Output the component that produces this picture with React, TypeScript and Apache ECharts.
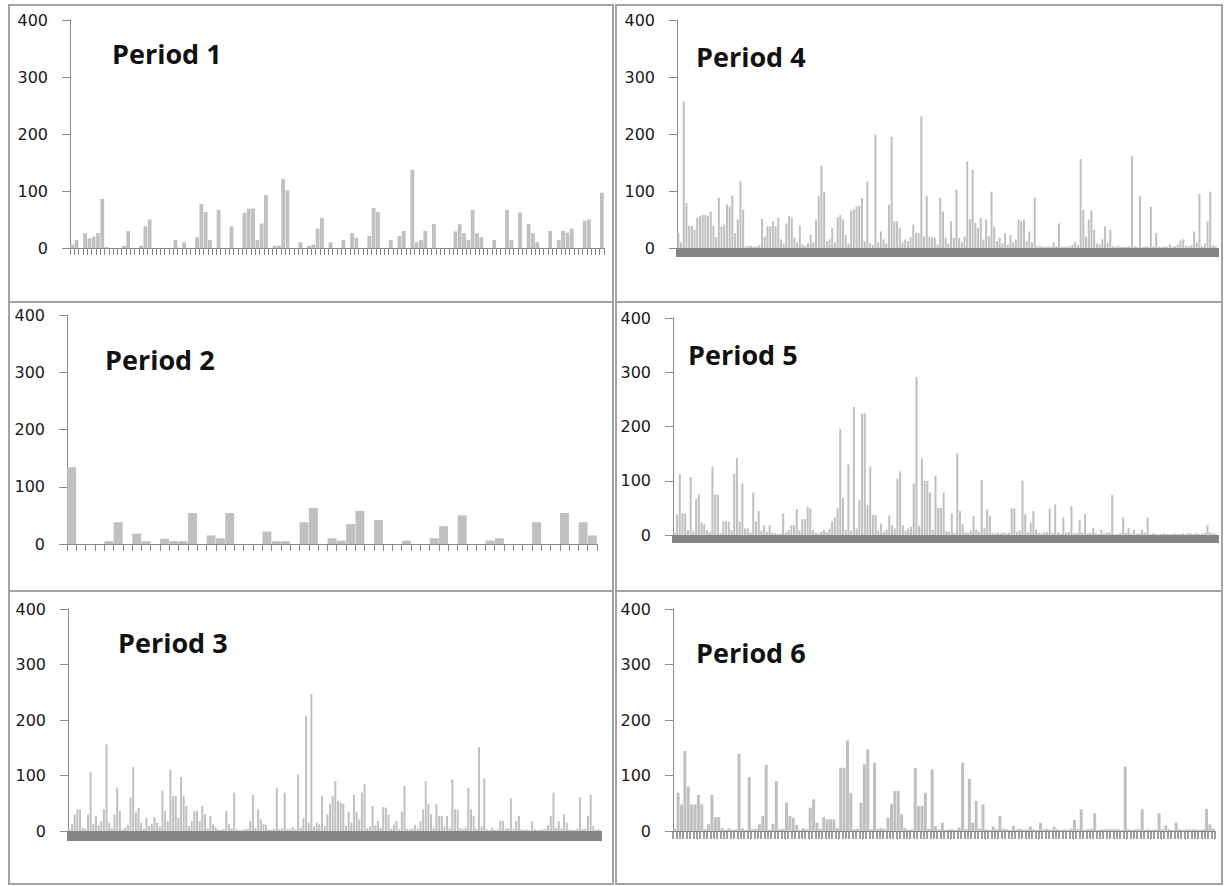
import React, { useEffect, useRef } from "react";
import * as echarts from "echarts";

// ---- data ----
const TITLES = ["Period 1", "Period 2", "Period 3", "Period 4", "Period 5", "Period 6"];
const Y_MIN = 0;
const Y_MAX = 400;
const Y_STEP = 100;

const PERIOD1 = [
  6, 14, 0, 26, 17, 20, 26, 86, 2, 0,
  0, 0, 4, 30, 0, 0, 4, 38, 50, 0,
  0, 0, 0, 0, 14, 0, 10, 0, 0, 19,
  77, 63, 14, 0, 67, 0, 0, 38, 0, 0,
  62, 69, 69, 14, 43, 93, 0, 4, 4, 121,
  101, 0, 0, 10, 0, 4, 6, 34, 53, 0,
  10, 0, 0, 14, 0, 26, 18, 0, 0, 21,
  70, 63, 0, 0, 14, 0, 21, 30, 0, 137,
  10, 14, 30, 0, 42, 0, 0, 0, 0, 29,
  42, 26, 14, 67, 26, 19, 0, 0, 14, 0,
  0, 67, 14, 0, 62, 0, 42, 26, 10, 0,
  0, 30, 0, 14, 30, 27, 34, 0, 0, 48,
  50, 0, 0, 97,
];

const PERIOD2 = [
  134, 0, 0, 0, 5, 38, 0, 18, 5, 0,
  9, 5, 5, 54, 0, 15, 10, 54, 0, 0,
  0, 22, 5, 5, 0, 38, 63, 0, 10, 6,
  35, 58, 0, 42, 0, 0, 6, 0, 0, 10,
  31, 0, 50, 0, 0, 6, 10, 0, 0, 0,
  38, 0, 0, 54, 0, 38, 15,
];

const PERIOD3 = [
  3, 12, 30, 39, 39, 6, 4, 30, 106, 12,
  27, 11, 18, 39, 156, 15, 5, 30, 78, 36,
  3, 6, 11, 60, 115, 33, 42, 15, 4, 24,
  9, 13, 25, 15, 8, 73, 36, 18, 111, 63,
  63, 24, 97, 63, 45, 9, 18, 36, 36, 18,
  45, 30, 5, 27, 12, 7, 3, 2, 4, 36,
  13, 5, 69, 3, 2, 2, 3, 4, 18, 65,
  6, 39, 21, 12, 11, 3, 2, 4, 78, 3,
  5, 69, 3, 4, 7, 3, 102, 6, 23, 207,
  15, 247, 8, 15, 12, 63, 9, 30, 48, 63,
  90, 54, 51, 49, 10, 35, 15, 65, 35, 21,
  69, 84, 5, 8, 45, 10, 18, 6, 43, 42,
  30, 4, 12, 18, 3, 35, 81, 4, 3, 5,
  11, 4, 18, 39, 90, 48, 30, 6, 48, 27,
  27, 8, 27, 6, 93, 39, 39, 5, 3, 6,
  78, 39, 27, 4, 151, 8, 95, 3, 2, 6,
  2, 3, 18, 18, 4, 5, 59, 4, 18, 27,
  3, 2, 3, 2, 18, 3, 2, 2, 3, 4,
  11, 27, 69, 6, 18, 5, 30, 15, 3, 2,
  2, 4, 61, 3, 4, 27, 65, 9, 2, 3,
];

const PERIOD4 = [
  26, 10, 257, 79, 39, 39, 32, 53, 56, 58,
  58, 56, 64, 39, 19, 88, 38, 41, 76, 73,
  92, 26, 50, 117, 67, 3, 4, 4, 2, 3,
  5, 51, 20, 38, 38, 47, 38, 53, 15, 8,
  43, 56, 53, 18, 10, 39, 6, 4, 8, 23,
  10, 50, 91, 144, 99, 12, 15, 35, 10, 54,
  58, 50, 23, 8, 66, 68, 73, 74, 88, 12,
  117, 8, 5, 199, 10, 29, 15, 8, 76, 195,
  47, 47, 35, 10, 15, 12, 19, 41, 26, 26,
  231, 20, 91, 20, 19, 18, 6, 88, 64, 18,
  8, 47, 18, 102, 18, 10, 20, 152, 50, 137,
  44, 35, 53, 15, 50, 20, 99, 38, 12, 18,
  8, 26, 6, 23, 10, 15, 50, 47, 50, 12,
  29, 10, 88, 3, 4, 2, 2, 3, 2, 10,
  3, 43, 2, 2, 2, 3, 6, 10, 5, 156,
  67, 20, 50, 66, 32, 8, 6, 15, 38, 10,
  32, 3, 2, 4, 2, 2, 2, 3, 161, 3,
  2, 91, 2, 3, 2, 72, 3, 26, 2, 2,
  3, 2, 6, 2, 3, 6, 13, 15, 4, 3,
  5, 29, 10, 95, 3, 8, 47, 99, 4, 3,
];

const PERIOD5 = [
  5, 38, 112, 40, 40, 9, 107, 7, 66, 75,
  23, 20, 9, 6, 126, 75, 74, 3, 25, 25,
  25, 9, 113, 142, 25, 95, 12, 12, 5, 78,
  25, 44, 8, 18, 6, 18, 4, 3, 2, 3,
  40, 5, 9, 18, 18, 48, 8, 29, 29, 52,
  49, 9, 4, 3, 6, 9, 5, 12, 25, 32,
  49, 196, 69, 10, 130, 8, 236, 12, 64, 224,
  224, 55, 126, 37, 37, 8, 21, 6, 10, 36,
  18, 12, 104, 117, 18, 8, 12, 15, 95, 291,
  17, 141, 100, 100, 78, 10, 109, 50, 50, 78,
  7, 6, 39, 4, 150, 44, 20, 5, 4, 8,
  35, 10, 6, 102, 13, 47, 35, 4, 3, 4,
  3, 5, 3, 4, 49, 49, 6, 8, 100, 38,
  5, 23, 44, 10, 4, 3, 5, 6, 49, 4,
  56, 5, 3, 32, 4, 6, 53, 3, 4, 27,
  5, 39, 3, 4, 13, 3, 2, 10, 3, 4,
  5, 74, 1, 2, 3, 32, 4, 13, 3, 10,
  2, 3, 10, 4, 32, 2, 3, 2, 1, 2,
  3, 2, 2, 2, 3, 2, 2, 3, 2, 4,
  3, 2, 4, 2, 3, 4, 18, 5, 3, 2,
];

const PERIOD6 = [
  4, 69, 48, 144, 80, 48, 48, 65, 48, 3,
  12, 65, 25, 25, 5, 2, 5, 2, 3, 139,
  5, 2, 97, 3, 4, 12, 27, 119, 2, 13,
  90, 3, 4, 51, 27, 24, 11, 2, 5, 3,
  42, 57, 15, 4, 25, 21, 21, 21, 5, 114,
  114, 163, 69, 3, 4, 51, 120, 147, 3, 123,
  4, 5, 3, 24, 49, 72, 72, 30, 5, 2,
  3, 114, 45, 45, 69, 4, 111, 9, 3, 15,
  2, 3, 3, 2, 6, 123, 3, 94, 15, 54,
  4, 48, 3, 2, 8, 3, 27, 4, 3, 2,
  9, 3, 4, 2, 3, 8, 3, 2, 15, 3,
  4, 2, 8, 3, 2, 3, 2, 4, 20, 3,
  39, 2, 3, 4, 32, 2, 3, 3, 3, 3,
  3, 3, 2, 116, 3, 2, 3, 3, 39, 2,
  3, 2, 3, 32, 3, 10, 3, 2, 15, 3,
  2, 3, 3, 3, 3, 2, 3, 40, 12, 4,
];

// ---- layout ----
const PANELS = [
  { data: PERIOD1, title: TITLES[0], grid: { left: 70, top: 20, width: 534, height: 228 }, tx: 112, ty: 53, tickLen: 7, tickW: 1, tickC: "#8a8a8a", gap: "12%" },
  { data: PERIOD2, title: TITLES[1], grid: { left: 67, top: 315, width: 530, height: 229 }, tx: 105, ty: 359, tickLen: 7, tickW: 1, tickC: "#8a8a8a", gap: "4%" },
  { data: PERIOD3, title: TITLES[2], grid: { left: 68, top: 609, width: 532, height: 222 }, tx: 118, ty: 642, tickLen: 10, tickW: 3, tickC: "#858585", gap: "25%" },
  { data: PERIOD4, title: TITLES[3], grid: { left: 677, top: 20, width: 540, height: 228 }, tx: 696, ty: 56, tickLen: 9, tickW: 3, tickC: "#858585", gap: "25%" },
  { data: PERIOD5, title: TITLES[4], grid: { left: 673, top: 318, width: 544, height: 217 }, tx: 688, ty: 354, tickLen: 8, tickW: 3, tickC: "#858585", gap: "25%" },
  { data: PERIOD6, title: TITLES[5], grid: { left: 673, top: 609, width: 542, height: 222 }, tx: 696, ty: 652, tickLen: 8, tickW: 1.5, tickC: "#7f7f7f", gap: "12%" },
];

const BORDERS = [
  { x: 9, y: 5, w: 604, h: 297 },
  { x: 9, y: 302, w: 604, h: 289 },
  { x: 9, y: 591, w: 604, h: 293 },
  { x: 616, y: 5, w: 606, h: 297 },
  { x: 616, y: 302, w: 606, h: 289 },
  { x: 616, y: 591, w: 606, h: 293 },
];

export default function App() {
  const ref = useRef<HTMLDivElement>(null);

  useEffect(() => {
    document.body.style.margin = "0";
    if (!ref.current) return;
    const chart = echarts.init(ref.current, undefined, { renderer: "svg" });

    const axisGray = "#8a8a8a";
    const option: any = {
      animation: false,
      backgroundColor: "#ffffff",
      grid: PANELS.map((p) => ({ ...p.grid, containLabel: false })),
      xAxis: PANELS.map((p, i) => ({
        type: "category",
        gridIndex: i,
        data: p.data.map((_, j) => String(j + 1)),
        axisLabel: { show: false },
        axisLine: { show: true, lineStyle: { color: axisGray, width: 1 } },
        axisTick: {
          show: true,
          interval: 0,
          inside: false,
          length: p.tickLen,
          lineStyle: { color: p.tickC, width: p.tickW },
        },
        splitLine: { show: false },
      })),
      yAxis: PANELS.map((p, i) => ({
        type: "value",
        gridIndex: i,
        min: Y_MIN,
        max: Y_MAX,
        interval: Y_STEP,
        axisLine: { show: true, lineStyle: { color: axisGray, width: 1 } },
        axisTick: { show: true, length: 8, lineStyle: { color: axisGray } },
        splitLine: { show: false },
        axisLabel: { margin: 22, color: "#1a1a1a", fontFamily: "DejaVu Sans", fontSize: 16 },
      })),
      series: PANELS.map((p, i) => ({
        type: "bar",
        xAxisIndex: i,
        yAxisIndex: i,
        data: p.data,
        barCategoryGap: p.gap,
        itemStyle: { color: "#c0c0c0" },
        silent: true,
      })),
      graphic: [
        ...BORDERS.map((b) => ({
          type: "rect",
          shape: { x: b.x, y: b.y, width: b.w, height: b.h },
          style: { fill: "none", stroke: "#a3a3a3", lineWidth: 2 },
          silent: true,
        })),
        ...PANELS.map((p) => ({
          type: "text",
          x: p.tx,
          y: p.ty,
          style: {
            text: p.title,
            fontFamily: "Open Sans",
            fontWeight: "bold",
            fontSize: 27,
            fill: "#111",
            textVerticalAlign: "middle",
            textAlign: "left",
          },
          silent: true,
        })),
      ],
    };
    chart.setOption(option);
    return () => chart.dispose();
  }, []);

  return <div ref={ref} style={{ width: 1225, height: 886 }} />;
}
